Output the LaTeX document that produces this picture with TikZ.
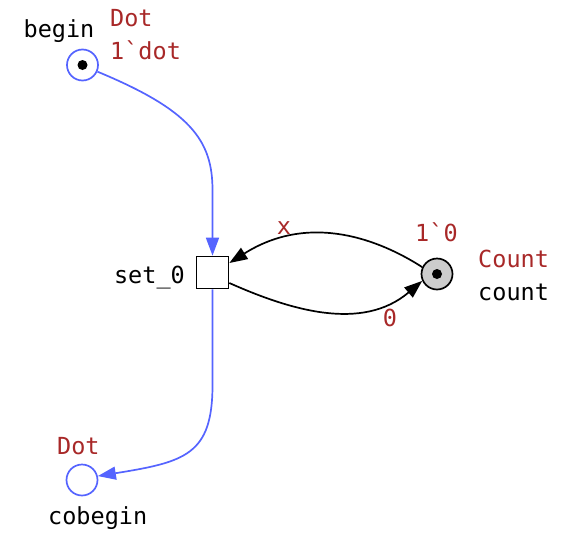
\documentclass[tikz,border=0pt]{standalone}
\usepackage{fontspec}
\setmonofont{DejaVu Sans Mono}
\usetikzlibrary{arrows.meta}
\definecolor{inscr}{RGB}{168,40,40}
\definecolor{netblue}{RGB}{85,100,255}
\definecolor{tokfill}{RGB}{204,204,204}
\tikzset{
  place/.style={circle,draw,line width=1.7pt,minimum size=31pt,inner sep=0pt},
  trans/.style={rectangle,draw=black,fill=white,line width=1.7pt,minimum size=32pt,inner sep=0pt},
  token/.style={circle,fill=black,minimum size=10pt,inner sep=0pt},
  lbl/.style={font=\ttfamily\fontsize{23.5}{28}\selectfont,inner sep=0pt},
  ins/.style={lbl,text=inscr},
  blue arc/.style={draw=netblue,line width=1.7pt,-{Triangle[length=18pt,width=13pt]}},
  black arc/.style={draw=black,line width=1.7pt,-{Triangle[length=18pt,width=13pt]}}
}
\begin{document}
\begin{tikzpicture}[x=1pt,y=-1pt]
\useasboundingbox (0,0) rectangle (561,536);

% places and transition
\node[place,draw=netblue] (begin) at (82.5,65) {};
\node[token] (tbegin) at (begin) {};
\node[place,draw=netblue] (cobegin) at (82,480) {};
\node[place,draw=black,fill=tokfill] (count) at (437,274) {};
\node[token] (tcount) at (count) {};
\node[trans] (set) at (212.5,272.5) {};

% labels
\node[lbl,anchor=base] (lbegin) at (59,37) {begin};
\node[ins,anchor=base west] (tybegin) at (110,26) {Dot};
\node[ins,anchor=base west] (ibegin) at (110,59) {1`dot};
\node[lbl,anchor=base east] (lset) at (185,283) {set\_0};
\node[ins,anchor=base west] (tycount) at (478,267) {Count};
\node[lbl,anchor=base west] (lcount) at (478,300) {count};
\node[ins,anchor=base west] (icount) at (415,241) {1`0};
\node[ins,anchor=base west] (tycob) at (57,454) {Dot};
\node[lbl,anchor=base west] (lcob) at (48,524) {cobegin};

% arcs
\coordinate (b1) at (212.5,190);
\draw[blue arc] (begin.-24) .. controls (190,110) and (212.5,140) .. (b1) -- (set.north);
\coordinate (c1) at (212.5,385);
\draw[blue arc] (set.south) -- (c1) .. controls (212.5,455) and (185,462) .. (cobegin.14);

\draw[black arc] (count.155) .. controls (380,240) and (310,212) .. (set.east |- 0,263);
\node[ins,anchor=base] (lx) at (284,234) {x};
\draw[black arc] (set.east |- 0,283) .. controls (290,310) and (362,332) .. (count.205);
\node[ins,anchor=base] (l0) at (390,326) {0};
\end{tikzpicture}
\end{document}
